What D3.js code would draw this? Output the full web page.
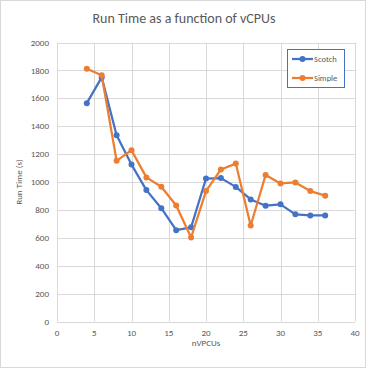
<!DOCTYPE html>
<html>
<head>
<meta charset="utf-8">
<script src="https://cdn.jsdelivr.net/npm/d3@7"></script>
<style>
  body { margin: 0; background: #fff; }
  text { font-family: Calibri, Carlito, "Open Sans", sans-serif; fill: #595959; }
</style>
</head>
<body>
<script>
// data
var vcpus = [4, 6, 8, 10, 12, 14, 16, 18, 20, 22, 24, 26, 28, 30, 32, 34, 36];
var scotch = [1565, 1750, 1335, 1125, 942, 812, 655, 675, 1025, 1028, 965, 875, 830, 840, 768, 760, 760];
var simple = [1812, 1765, 1152, 1228, 1033, 966, 832, 602, 935, 1090, 1132, 688, 1050, 990, 997, 935, 902];
var xTicks = [0, 5, 10, 15, 20, 25, 30, 35, 40];
var yTicks = [0, 200, 400, 600, 800, 1000, 1200, 1400, 1600, 1800, 2000];
var seriesNames = ["Scotch", "Simple"];
var colors = ["#4472C4", "#ED7D31"];

var W = 369, H = 369;
var svg = d3.select("body").append("svg")
  .attr("width", W).attr("height", H);

svg.append("rect")
  .attr("x", 0.5).attr("y", 0.5)
  .attr("width", 365).attr("height", 367)
  .attr("fill", "#fff").attr("stroke", "#d9d9d9");

var x = d3.scaleLinear().domain([0, 40]).range([57, 355]);
var y = d3.scaleLinear().domain([0, 2000]).range([321.5, 42.5]);

// grid
svg.append("g").selectAll("line.h")
  .data(yTicks).enter().append("line")
  .attr("x1", x(0)).attr("x2", x(40))
  .attr("y1", function(d) { return Math.round(y(d)) + 0.5; })
  .attr("y2", function(d) { return Math.round(y(d)) + 0.5; })
  .attr("stroke", "#d9d9d9");
svg.append("g").selectAll("line.v")
  .data(xTicks).enter().append("line")
  .attr("y1", y(0)).attr("y2", y(2000))
  .attr("x1", function(d) { return Math.round(x(d)) + 0.5; })
  .attr("x2", function(d) { return Math.round(x(d)) + 0.5; })
  .attr("stroke", "#d9d9d9");

// tick labels
svg.append("g").selectAll("text")
  .data(yTicks).enter().append("text")
  .attr("x", 49).attr("y", function(d) { return y(d); })
  .attr("dy", "0.35em")
  .attr("text-anchor", "end")
  .style("font-size", "9px")
  .text(function(d) { return d; });
svg.append("g").selectAll("text")
  .data(xTicks).enter().append("text")
  .attr("x", function(d) { return x(d); }).attr("y", 336)
  .attr("text-anchor", "middle")
  .style("font-size", "9px")
  .text(function(d) { return d; });

// titles
svg.append("text")
  .attr("x", 184).attr("y", 23)
  .attr("text-anchor", "middle")
  .style("font-size", "14px")
  .text("Run Time as a function of vCPUs");
svg.append("text")
  .attr("x", 206).attr("y", 346)
  .attr("text-anchor", "middle")
  .style("font-size", "9px")
  .text("nVPCUs");
svg.append("text")
  .attr("transform", "translate(22," + y(1000) + ") rotate(-90)")
  .attr("text-anchor", "middle")
  .style("font-size", "9px")
  .text("Run Time (s)");

// series
var series = [scotch, simple];
var line = d3.line()
  .x(function(d, i) { return x(vcpus[i]); })
  .y(function(d) { return y(d); });

series.forEach(function(vals, k) {
  svg.append("path")
    .datum(vals)
    .attr("d", line)
    .attr("fill", "none")
    .attr("stroke", colors[k])
    .attr("stroke-width", 2.25)
    .attr("stroke-linejoin", "round");
  svg.append("g").selectAll("circle")
    .data(vals).enter().append("circle")
    .attr("cx", function(d, i) { return x(vcpus[i]); })
    .attr("cy", function(d) { return y(d); })
    .attr("r", 3)
    .attr("fill", colors[k]);
});

// legend
var lg = svg.append("g");
lg.append("rect")
  .attr("x", 287.5).attr("y", 49.5)
  .attr("width", 57).attr("height", 38)
  .attr("fill", "#fff").attr("stroke", "#4472C4");
seriesNames.forEach(function(name, k) {
  var ly = 59 + k * 19;
  lg.append("line")
    .attr("x1", 292).attr("x2", 313)
    .attr("y1", ly).attr("y2", ly)
    .attr("stroke", colors[k]).attr("stroke-width", 2.25);
  lg.append("circle")
    .attr("cx", 302.5).attr("cy", ly).attr("r", 3)
    .attr("fill", colors[k]);
  lg.append("text")
    .attr("x", 314).attr("y", ly)
    .attr("dy", "0.35em")
    .style("font-size", "8.5px")
    .text(name);
});
</script>
</body>
</html>
